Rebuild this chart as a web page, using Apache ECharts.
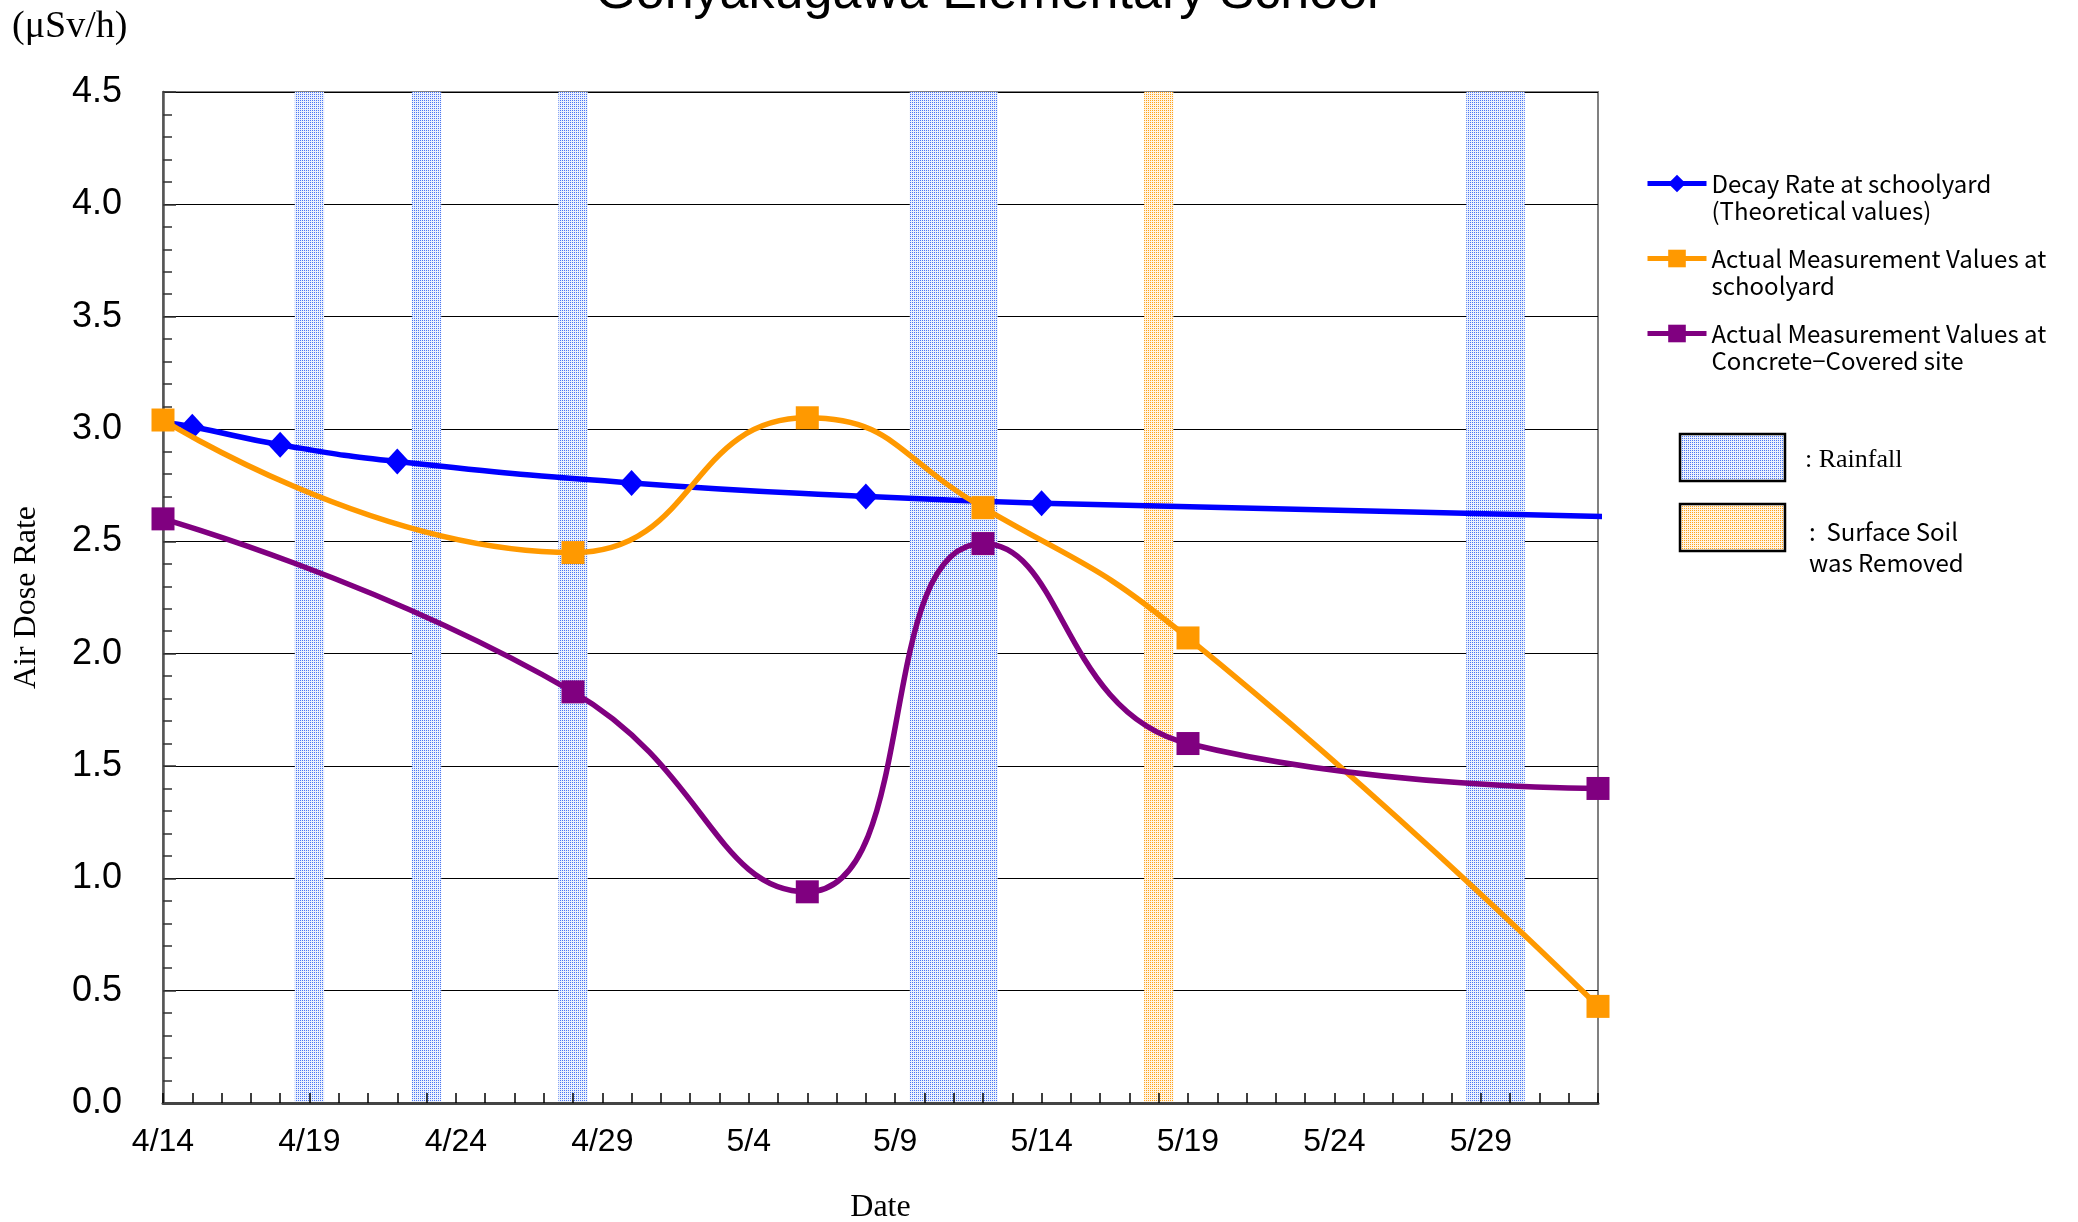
<!DOCTYPE html>
<html>
<head>
<meta charset="utf-8">
<script src="https://cdn.jsdelivr.net/npm/echarts@6/dist/echarts.min.js"></script>
<style>
html,body{margin:0;padding:0;background:#fff;}
#chart{width:2078px;height:1222px;}
</style>
</head>
<body>
<div id="chart"></div>
<script>
// ---- data (x = days after 4/14) ----
const tickLabels = ['4/14','4/19','4/24','4/29','5/4','5/9','5/14','5/19','5/24','5/29'];
const decayDays = [0, 1, 4, 8, 16, 24, 30, 49.4];
const decayValues = [3.03, 3.01, 2.93, 2.855, 2.76, 2.70, 2.67, 2.61];
const decayMarked = [false, true, true, true, true, true, true, false];
const measureDays = [0, 14, 22, 28, 35, 49];
const schoolyardValues = [3.04, 2.45, 3.05, 2.65, 2.07, 0.43];
const concreteValues = [2.60, 1.83, 0.94, 2.49, 1.60, 1.40];
const rainfallPeriods = [[4.5, 5.5], [8.5, 9.5], [13.5, 14.5], [25.5, 28.5], [44.5, 46.5]];
const soilRemovalPeriods = [[33.5, 34.5]];
const seriesNames = [
  'Decay Rate at schoolyard\n(Theoretical values)',
  'Actual Measurement Values at\nschoolyard',
  'Actual Measurement Values at\nConcrete\u2212Covered site'
];

function makePattern(bg, dot) {
  const c = document.createElement('canvas');
  c.width = 4; c.height = 4;
  const g = c.getContext('2d');
  g.fillStyle = bg; g.fillRect(0, 0, 4, 4);
  g.fillStyle = dot;
  g.fillRect(0, 0, 1, 1); g.fillRect(2, 2, 1, 1);
  g.fillRect(2, 0, 1, 1); g.fillRect(0, 2, 1, 1);
  return c;
}
const rainPattern = { image: makePattern('#eaf0fd', '#4a75f3'), repeat: 'repeat' };
const soilPattern = { image: makePattern('#fff4e3', '#ffa21a'), repeat: 'repeat' };

const sansJP = '"Noto Sans CJK JP", "Noto Sans", sans-serif';
const serif = '"Liberation Serif", "DejaVu Serif", serif';
const arial = '"Liberation Sans", Arial, sans-serif';

const chart = echarts.init(document.getElementById('chart'), null, { renderer: 'canvas' });

const bandData = rainfallPeriods.map(p => [{ xAxis: p[0], itemStyle: { color: rainPattern } }, { xAxis: p[1] }])
  .concat(soilRemovalPeriods.map(p => [{ xAxis: p[0], itemStyle: { color: soilPattern } }, { xAxis: p[1] }]));

const option = {
  backgroundColor: '#fff',
  animation: false,
  grid: {
    left: 163, top: 92, right: 480, bottom: 119,
    outerBoundsMode: 'none', containLabel: false,
    show: true, borderColor: '#808080', borderWidth: 2, backgroundColor: 'transparent'
  },
  legend: {
    orient: 'vertical', left: 1645, top: 143, padding: 0,
    itemWidth: 59, itemHeight: 22, itemGap: -6,
    selectedMode: false,
    data: seriesNames,
    formatter: n => '\n' + n,
    lineStyle: { width: 5 },
    textStyle: { fontFamily: sansJP, fontSize: 24, lineHeight: 27, color: '#000' }
  },
  xAxis: {
    type: 'value', min: 0, max: 49, interval: 1, z: 3,
    name: 'Date', nameLocation: 'middle', nameGap: 89,
    nameTextStyle: { fontFamily: serif, fontSize: 32, color: '#000' },
    axisLine: { show: true, lineStyle: { color: '#444', width: 3 } },
    axisTick: { show: true, inside: true, length: 10, lineStyle: { color: '#000', width: 1.5 } },
    splitLine: { show: false },
    axisLabel: {
      margin: 23, fontFamily: arial, fontSize: 32, color: '#000',
      formatter: v => (v % 5 === 0 && tickLabels[v / 5]) ? tickLabels[v / 5] : ''
    }
  },
  yAxis: {
    type: 'value', min: 0, max: 4.5, interval: 0.5,
    name: 'Air Dose Rate', nameLocation: 'middle', nameGap: 120, nameRotate: 90,
    nameTextStyle: { fontFamily: serif, fontSize: 32, color: '#000' },
    axisLine: { show: true, lineStyle: { color: '#555', width: 2.5 } },
    axisTick: { show: true, inside: true, length: 13, lineStyle: { color: '#333', width: 1.5 } },
    minorTick: { show: true, splitNumber: 5, length: 9, lineStyle: { color: '#333', width: 1.5 } },
    splitLine: { show: true, lineStyle: { color: '#000', width: 1.2 } },
    axisLabel: { margin: 41, fontFamily: arial, fontSize: 36, color: '#000', formatter: v => v.toFixed(1) }
  },
  series: [
    {
      name: 'bands', type: 'line', data: [], z: 1, silent: true,
      markArea: { silent: true, z: 1, itemStyle: { borderWidth: 0 }, data: bandData }
    },
    {
      name: seriesNames[0], type: 'line', smooth: 0.5, clip: false, z: 3,
      symbol: 'diamond', symbolSize: [24, 26],
      lineStyle: { color: '#0000ff', width: 5.5 }, itemStyle: { color: '#0000ff' },
      data: decayDays.map((d, i) => decayMarked[i] ? [d, decayValues[i]] : { value: [d, decayValues[i]], symbol: 'none' })
    },
    {
      name: seriesNames[1], type: 'line', smooth: 0.5, z: 4,
      symbol: 'rect', symbolSize: 23,
      lineStyle: { color: '#ff9900', width: 5.5 }, itemStyle: { color: '#ff9900' },
      data: measureDays.map((d, i) => [d, schoolyardValues[i]])
    },
    {
      name: seriesNames[2], type: 'line', smooth: 0.5, z: 5,
      symbol: 'rect', symbolSize: 23,
      lineStyle: { color: '#800080', width: 5.5 }, itemStyle: { color: '#800080' },
      data: measureDays.map((d, i) => [d, concreteValues[i]])
    }
  ],
  graphic: [
    { type: 'text', x: 987, y: 20, silent: true,
      style: { text: 'Gonyakugawa Elementary School', font: '52px ' + arial, fill: '#000', align: 'center', verticalAlign: 'bottom' } },
    { type: 'text', x: 12, y: 27, silent: true,
      style: { text: '(\u03bcSv/h)', font: '38px ' + serif, fill: '#000', align: 'left', verticalAlign: 'middle' } },
    { type: 'rect', silent: true, shape: { x: 1680, y: 434, width: 105, height: 47 },
      style: { fill: rainPattern, stroke: '#000', lineWidth: 2.5 } },
    { type: 'text', x: 1805, y: 460, silent: true,
      style: { text: ': Rainfall', font: '26px ' + serif, fill: '#000', align: 'left', verticalAlign: 'middle' } },
    { type: 'rect', silent: true, shape: { x: 1680, y: 504, width: 105, height: 47 },
      style: { fill: soilPattern, stroke: '#000', lineWidth: 2.5 } },
    { type: 'text', x: 1809, y: 547, silent: true,
      style: { text: ':  Surface Soil\nwas Removed', font: '24px ' + sansJP, lineHeight: 31, fill: '#000', align: 'left', verticalAlign: 'middle' } }
  ]
};
chart.setOption(option);
</script>
</body>
</html>
